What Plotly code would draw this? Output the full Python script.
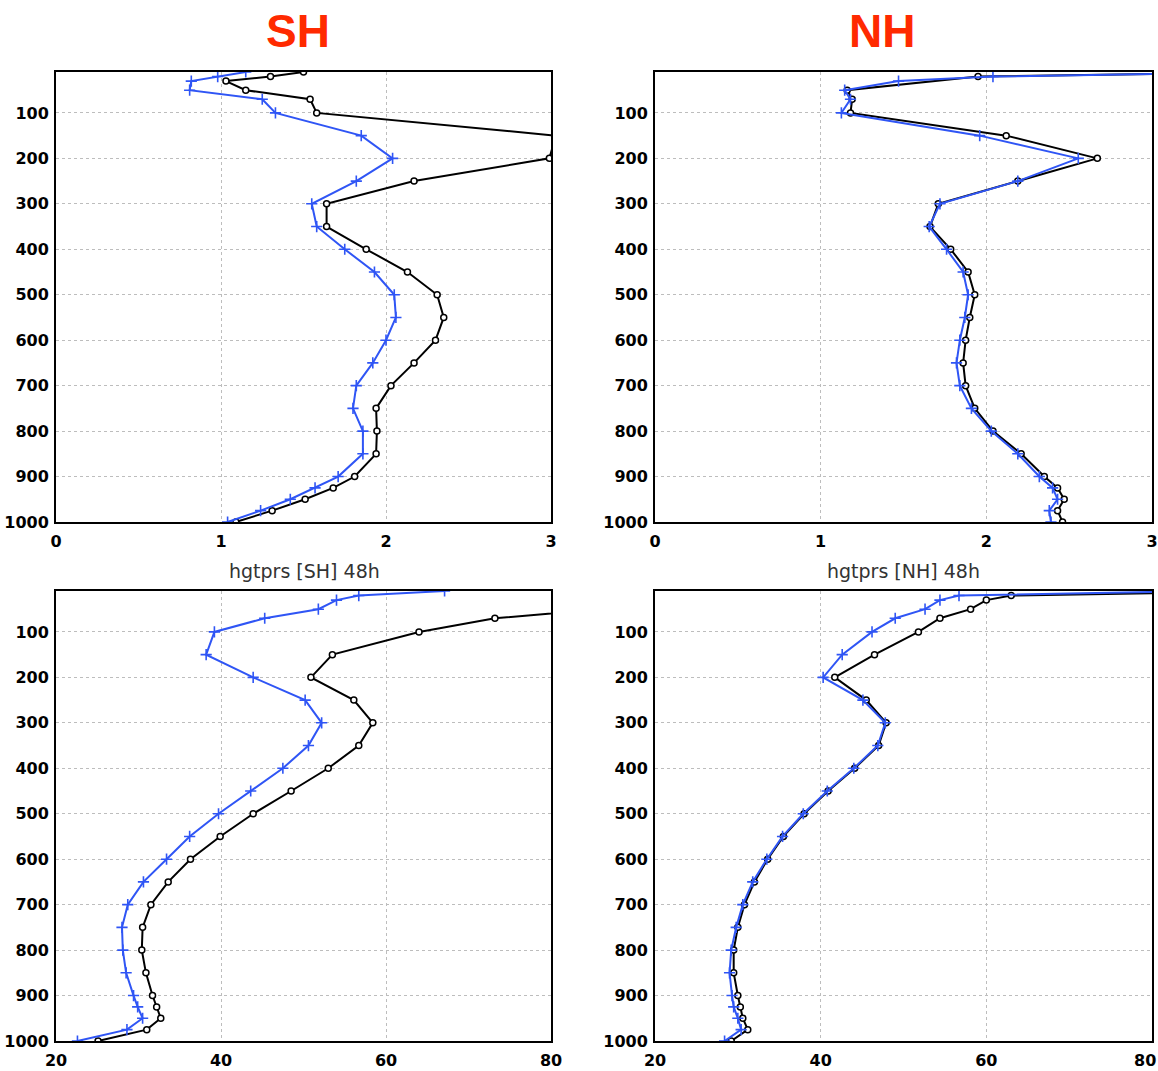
import plotly.graph_objects as go

# Pressure levels (hPa)
levels = [1000, 975, 950, 925, 900, 850, 800, 750, 700, 650, 600, 550, 500,
          450, 400, 350, 300, 250, 200, 150, 100, 70, 50, 30, 20, 10]

# Upper panels (scale 0-3)
sh_top_black = [1.09, 1.31, 1.51, 1.68, 1.81, 1.94, 1.945, 1.94, 2.03, 2.17, 2.30, 2.35, 2.31,
                2.13, 1.88, 1.64, 1.64, 2.17, 2.99, 3.03, 1.58, 1.54, 1.15, 1.03, 1.30, 1.50]
sh_top_blue = [1.04, 1.24, 1.42, 1.57, 1.71, 1.86, 1.86, 1.80, 1.82, 1.92, 2.00, 2.06, 2.05,
               1.93, 1.75, 1.58, 1.55, 1.82, 2.04, 1.85, 1.33, 1.25, 0.81, 0.82, 0.98, 1.15]
nh_top_black = [2.46, 2.43, 2.47, 2.43, 2.35, 2.21, 2.04, 1.93, 1.875, 1.86, 1.875, 1.90, 1.93,
                1.89, 1.785, 1.66, 1.71, 2.19, 2.67, 2.12, 1.18, 1.19, 1.16, None, 1.95, 3.80]
nh_top_blue = [2.39, 2.38, 2.43, 2.40, 2.32, 2.19, 2.03, 1.91, 1.84, 1.82, 1.84, 1.87, 1.89,
               1.86, 1.76, 1.655, 1.72, 2.19, 2.555, 1.96, 1.125, 1.18, 1.145, 1.47, 2.04, 3.75]

# Lower panels (scale 20-80)
sh_bot_black = [25.1, 31.0, 32.7, 32.2, 31.7, 30.9, 30.4, 30.5, 31.5, 33.6, 36.3, 39.9, 43.9,
                48.5, 53.0, 56.7, 58.4, 56.1, 50.9, 53.5, 64.0, 73.2, 84.5, 95.0, 105.0, 115.0]
sh_bot_blue = [22.6, 28.6, 30.5, 29.9, 29.4, 28.5, 28.1, 28.0, 28.7, 30.6, 33.4, 36.2, 39.7,
               43.6, 47.5, 50.6, 52.2, 50.2, 43.9, 38.2, 39.2, 45.3, 51.8, 54.0, 56.7, 67.1]
nh_bot_black = [29.2, 31.2, 30.6, 30.3, 30.0, 29.5, 29.5, 30.0, 30.8, 32.0, 33.6, 35.5, 38.0,
                40.9, 44.1, 47.0, 47.9, 45.5, 41.7, 46.5, 51.8, 54.4, 58.1, 60.0, 63.0, 95.0]
nh_bot_blue = [28.4, 30.4, 30.0, 29.5, 29.3, 29.0, 29.2, 29.8, 30.6, 31.8, 33.5, 35.4, 37.9,
               40.8, 44.0, 46.9, 47.8, 45.1, 40.3, 42.6, 46.2, 49.0, 52.6, 54.4, 56.7, 86.0]

top_xticks = [0, 1, 2, 3]
bot_xticks = [20, 40, 60, 80]
p_ticks = [100, 200, 300, 400, 500, 600, 700, 800, 900, 1000]

BLUE = "#2f55f5"
W, H = 1158, 1071

# panel pixel boxes: (left, right, top, bottom)
boxes = {
    1: (56, 551, 72, 522),
    2: (655, 1152, 72, 522),
    3: (56, 551, 591, 1041),
    4: (655, 1152, 591, 1041),
}

panels = [
    (1, sh_top_black, sh_top_blue, [0, 3], top_xticks),
    (2, nh_top_black, nh_top_blue, [0, 3], top_xticks),
    (3, sh_bot_black, sh_bot_blue, [20, 80], bot_xticks),
    (4, nh_bot_black, nh_bot_blue, [20, 80], bot_xticks[:-1]),
]

fig = go.Figure()
layout = {}
tick_font = dict(family="DejaVu Sans", size=16, color="black", weight="bold")

for idx, black, blue, xr, xt in panels:
    sfx = "" if idx == 1 else str(idx)
    xa, ya = "x" + sfx, "y" + sfx
    fig.add_trace(go.Scatter(
        x=black, y=levels, xaxis=xa, yaxis=ya, mode="lines+markers",
        connectgaps=True,
        line=dict(color="black", width=2),
        marker=dict(symbol="circle", size=6, color="white",
                    line=dict(color="black", width=1.5)),
        showlegend=False))
    fig.add_trace(go.Scatter(
        x=blue, y=levels, xaxis=xa, yaxis=ya, mode="lines+markers",
        line=dict(color=BLUE, width=2),
        marker=dict(symbol="cross-thin", size=8,
                    line=dict(color=BLUE, width=1.6)),
        showlegend=False))
    l, r, t, b = boxes[idx]
    common = dict(showline=True, mirror=True, linecolor="black", linewidth=2,
                  showgrid=True, gridcolor="#bdbdbd", griddash="dot", gridwidth=1,
                  zeroline=False, ticks="", tickfont=tick_font, automargin=False)
    layout["xaxis" + sfx] = dict(
        domain=[l / W, r / W], anchor=ya, range=xr, tickvals=xt,
        ticklabelstandoff=4, **common)
    layout["yaxis" + sfx] = dict(
        domain=[1 - b / H, 1 - t / H], anchor=xa, range=[1000, 10],
        tickvals=p_ticks, ticklabelstandoff=2, **common)

fig.update_layout(
    width=W, height=H, margin=dict(l=0, r=0, t=0, b=0, autoexpand=False),
    paper_bgcolor="white", plot_bgcolor="white", **layout)

# The last label of the lower-right axis sits at the page edge; keep it inside
fig.add_annotation(text=str(bot_xticks[-1]), x=1.0, y=0, xref="paper", yref="paper",
                   yshift=(1071 - 1041) - 19, showarrow=False, xanchor="right",
                   yanchor="middle", font=tick_font)

# Hemisphere headings
for txt, xc in [("SH", 298), ("NH", 882)]:
    fig.add_annotation(text=txt, x=xc / W, y=1 - 31 / H, xref="paper", yref="paper",
                       showarrow=False, xanchor="center", yanchor="middle",
                       font=dict(family="Liberation Sans", size=46, color="#ff2a00",
                                 weight="bold"))

# Variable labels beneath upper panels
for txt, xc in [("hgtprs [SH] 48h", 304), ("hgtprs [NH] 48h", 903)]:
    fig.add_annotation(text=txt, x=xc / W, y=1 - 571 / H, xref="paper", yref="paper",
                       showarrow=False, xanchor="center", yanchor="middle",
                       font=dict(family="DejaVu Sans", size=19, color="#333333"))

fig.write_html("out.html")
